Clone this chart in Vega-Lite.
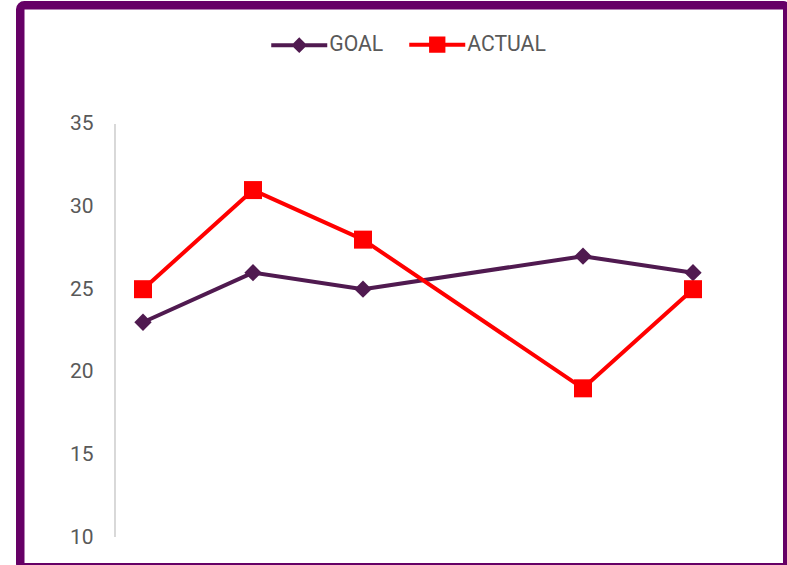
{
  "$schema": "https://vega.github.io/schema/vega-lite/v6.json",
  "autosize": "none",
  "padding": {"left": 20.25, "top": 5.25, "right": -0.5, "bottom": -2.5},
  "width": 767,
  "height": 562,
  "background": "white",
  "config": {
    "view": {"stroke": "#660066", "strokeWidth": 8.5, "cornerRadius": 4, "fill": "white"},
    "font": "Roboto"
  },
  "data": {
    "values": [
      {"period": 1, "series": "GOAL", "value": 23},
      {"period": 2, "series": "GOAL", "value": 26},
      {"period": 3, "series": "GOAL", "value": 25},
      {"period": 5, "series": "GOAL", "value": 27},
      {"period": 6, "series": "GOAL", "value": 26},
      {"period": 1, "series": "ACTUAL", "value": 25},
      {"period": 2, "series": "ACTUAL", "value": 31},
      {"period": 3, "series": "ACTUAL", "value": 28},
      {"period": 5, "series": "ACTUAL", "value": 19},
      {"period": 6, "series": "ACTUAL", "value": 25}
    ]
  },
  "layer": [
    {
      "mark": {"type": "line", "strokeWidth": 4, "strokeCap": "round", "strokeJoin": "round"},
      "encoding": {
        "x": {"field": "period", "type": "quantitative", "scale": {"domain": [-0.1159, 6.8568], "nice": false, "zero": false}, "axis": null},
        "y": {
          "field": "value", "type": "quantitative",
          "scale": {"domain": [8.169, 42.188], "nice": false, "zero": false},
          "axis": {
            "values": [10, 15, 20, 25, 30, 35],
            "domain": false, "ticks": false, "tickSize": 0, "grid": false,
            "offset": -94.75, "labelPadding": 22,
            "labelFont": "Roboto", "labelFontSize": 21, "labelColor": "#595959",
            "title": null
          }
        },
        "color": {
          "field": "series", "type": "nominal",
          "scale": {"domain": ["GOAL", "ACTUAL"], "range": ["#501A50", "#FF0000"]},
          "legend": {
            "orient": "none", "direction": "horizontal",
            "legendX": 249, "legendY": 9,
            "title": null, "padding": 0,
            "symbolSize": 3136, "labelOffset": 0, "columnPadding": 17,
            "labelFont": "Roboto", "labelFontSize": 21.2, "labelColor": "#595959",
            "symbolStrokeWidth": 4,
            "encode": {
              "symbols": {
                "update": {
                  "shape": {"signal": "datum.value === 'GOAL' ? 'M-1,0H1M0,-0.18L0.18,0L0,0.18L-0.18,0Z' : 'M-1,0H1M-0.22,-0.22H0.22V0.22H-0.22Z'"},
                  "fill": {"signal": "datum.value === 'GOAL' ? '#501A50' : '#FF0000'"},
                  "stroke": {"signal": "datum.value === 'GOAL' ? '#501A50' : '#FF0000'"}
                }
              }
            }
          }
        }
      }
    },
    {
      "mark": {"type": "rule", "color": "#d9d9d9", "strokeWidth": 1.5},
      "encoding": {
        "x": {"datum": 0.7455},
        "y": {"datum": 10},
        "y2": {"datum": 35}
      }
    },
    {
      "transform": [{"filter": "datum.series === 'GOAL'"}],
      "mark": {"type": "point", "filled": true, "opacity": 1, "shape": "diamond", "size": 300},
      "encoding": {
        "x": {"field": "period", "type": "quantitative"},
        "y": {"field": "value", "type": "quantitative"},
        "color": {"field": "series", "type": "nominal"}
      }
    },
    {
      "transform": [{"filter": "datum.series === 'ACTUAL'"}],
      "mark": {"type": "point", "filled": true, "opacity": 1, "shape": "square", "size": 324},
      "encoding": {
        "x": {"field": "period", "type": "quantitative"},
        "y": {"field": "value", "type": "quantitative"},
        "color": {"field": "series", "type": "nominal"}
      }
    }
  ]
}
